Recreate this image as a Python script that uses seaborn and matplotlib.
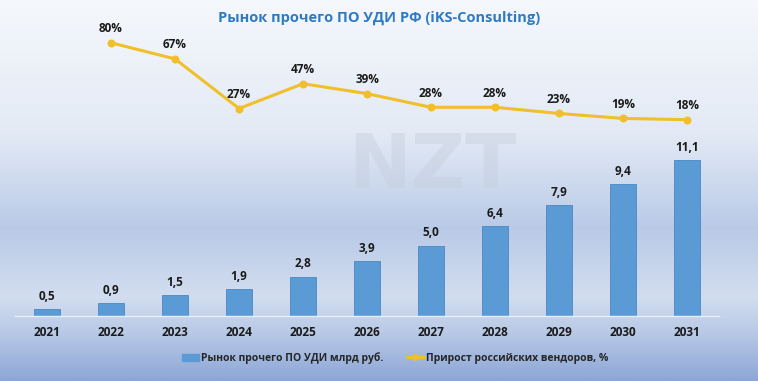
import numpy as np
import pandas as pd
import matplotlib
matplotlib.use("Agg")
import matplotlib.pyplot as plt
import seaborn as sns
from matplotlib.colors import LinearSegmentedColormap
from matplotlib.patches import Patch
from matplotlib.lines import Line2D

# data
years = ["2021", "2022", "2023", "2024", "2025", "2026", "2027", "2028", "2029", "2030", "2031"]
market = [0.5, 0.9, 1.5, 1.9, 2.8, 3.9, 5.0, 6.4, 7.9, 9.4, 11.1]
growth_years = ["2022", "2023", "2024", "2025", "2026", "2027", "2028", "2029", "2030", "2031"]
growth = [80, 67, 27, 47, 39, 28, 28, 23, 19, 18]

bar_label = "Рынок прочего ПО УДИ млрд руб."
line_label = "Прирост российских вендоров, %"
title = "Рынок прочего ПО УДИ РФ (iKS-Consulting)"

sns.set_theme(style="white")
plt.rcParams['font.family'] = ['Open Sans', 'DejaVu Sans']

bar_color = "#5B9BD5"
line_color = "#F0BF2A"

fig = plt.figure(figsize=(7.58, 3.81), dpi=100)

# background gradient
bg = fig.add_axes([0, 0, 1, 1], zorder=-10)
cmap = LinearSegmentedColormap.from_list(
    "bg", [(0.0, "#F5F8FC"), (0.35, "#E3EAF5"), (0.6, "#B9CAE7"),
           (0.78, "#D2DDEF"), (0.88, "#B7C8E6"), (1.0, "#8DA6D6")])
grad = np.linspace(0, 1, 256).reshape(-1, 1)
bg.imshow(grad, aspect="auto", cmap=cmap, extent=[0, 1, 0, 1], origin="upper")
bg.set_axis_off()
# watermark
bg.text(0.57, 0.465, "NZT", fontsize=54, fontweight="bold", color="#C4CCDA",
        alpha=0.4, ha="center", va="bottom", family="DejaVu Sans")

ax = fig.add_axes([15 / 758, 1 - 316 / 381, 704 / 758, 286 / 381])
ax.patch.set_alpha(0)

df = pd.DataFrame({"year": years, "market": market})
sns.barplot(data=df, x="year", y="market", color=bar_color, width=0.42,
            saturation=1, edgecolor="#4A88C4", linewidth=0.6, ax=ax)
ax.set_xlim(-0.5, 10.5)
ax.set_ylim(0, 286 / 14.05)
for i, v in enumerate(market):
    ax.text(i, v + 0.45, f"{v:.1f}".replace(".", ","), ha="center", va="bottom",
            fontsize=8.5, fontweight="bold", color="#1A1A1A")

ax.set_xlabel("")
ax.set_ylabel("")
ax.set_yticks([])
ax.tick_params(axis="x", length=0, pad=7)
for lab in ax.get_xticklabels():
    lab.set_fontweight("bold")
    lab.set_fontsize(8.5)
    lab.set_color("#1A1A1A")
for s in ["top", "left", "right"]:
    ax.spines[s].set_visible(False)
ax.spines["bottom"].set_color("#E8EEF8")
ax.spines["bottom"].set_linewidth(1.0)

ax2 = ax.twinx()
pos = [years.index(y) for y in growth_years]
sns.lineplot(x=pos, y=growth, color=line_color, linewidth=2.2, marker="o",
             markersize=5, markeredgecolor=line_color, ax=ax2)
ax2.set_ylim(-(316 - 142) / 1.24, (142 - 30) / 1.24)
ax2.set_yticks([])
for s in ["top", "left", "right", "bottom"]:
    ax2.spines[s].set_visible(False)
for x, g in zip(pos, growth):
    ax2.text(x, g + 6, f"{g}%", ha="center", va="bottom", fontsize=8.5,
             fontweight="bold", color="#1A1A1A")

fig.text(0.5, 1 - 18 / 381, title, ha="center", va="center", fontsize=10.5,
         fontweight="bold", color="#2E7BC4")

handles = [Patch(facecolor=bar_color, edgecolor=bar_color),
           Line2D([0], [0], color=line_color, lw=2.2, marker="o", markersize=4)]
leg = fig.legend(handles, [bar_label, line_label], loc="center",
                 bbox_to_anchor=(395 / 758, 1 - 358 / 381), ncol=2, frameon=False,
                 prop={"weight": "bold", "size": 7.5}, handlelength=1.6,
                 handletextpad=0.2, columnspacing=2.3)

fig.savefig("out.png", dpi=100)
